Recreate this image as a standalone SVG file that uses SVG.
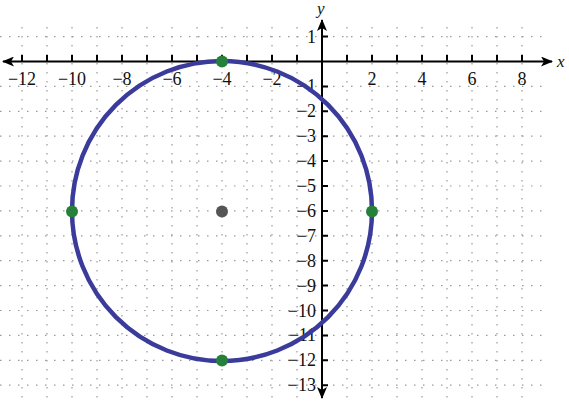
<svg xmlns="http://www.w3.org/2000/svg" width="569" height="401" viewBox="0 0 569 401">
<style>
.grid line{stroke:#9a9a9a;stroke-width:1.2;stroke-dasharray:1.5 7.5}
.axis{stroke:#000;stroke-width:2;fill:none}
.tick{stroke:#000;stroke-width:2}
.lbl{font-family:"Liberation Serif","Times New Roman",serif;font-size:18px;fill:#111}
.xl{text-anchor:middle}
.yl{text-anchor:end}
.var{font-family:"Liberation Serif","Times New Roman",serif;font-size:17px;font-style:italic;fill:#111}
.pt{fill:#25803a}
</style>
<defs>
<marker id="arr" viewBox="0 0 12 10" refX="11" refY="5" markerWidth="12" markerHeight="10" markerUnits="userSpaceOnUse" orient="auto-start-reverse">
<path d="M0,0 L12,5 L0,10 L3,5 Z" fill="#000"/>
</marker>
</defs>
<g id="grid" class="grid">
<line x1="0" y1="36.6" x2="545" y2="36.6"/>
<line x1="0" y1="86.4" x2="545" y2="86.4"/>
<line x1="0" y1="111.3" x2="545" y2="111.3"/>
<line x1="0" y1="136.2" x2="545" y2="136.2"/>
<line x1="0" y1="161.1" x2="545" y2="161.1"/>
<line x1="0" y1="186" x2="545" y2="186"/>
<line x1="0" y1="210.9" x2="545" y2="210.9"/>
<line x1="0" y1="235.8" x2="545" y2="235.8"/>
<line x1="0" y1="260.7" x2="545" y2="260.7"/>
<line x1="0" y1="285.6" x2="545" y2="285.6"/>
<line x1="0" y1="310.5" x2="545" y2="310.5"/>
<line x1="0" y1="335.4" x2="545" y2="335.4"/>
<line x1="0" y1="360.3" x2="545" y2="360.3"/>
<line x1="0" y1="385.2" x2="545" y2="385.2"/>
<line x1="22" y1="27" x2="22" y2="401"/>
<line x1="47" y1="27" x2="47" y2="401"/>
<line x1="72" y1="27" x2="72" y2="401"/>
<line x1="97" y1="27" x2="97" y2="401"/>
<line x1="122" y1="27" x2="122" y2="401"/>
<line x1="147" y1="27" x2="147" y2="401"/>
<line x1="172" y1="27" x2="172" y2="401"/>
<line x1="197" y1="27" x2="197" y2="401"/>
<line x1="222" y1="27" x2="222" y2="401"/>
<line x1="247" y1="27" x2="247" y2="401"/>
<line x1="272" y1="27" x2="272" y2="401"/>
<line x1="297" y1="27" x2="297" y2="401"/>
<line x1="347" y1="27" x2="347" y2="401"/>
<line x1="372" y1="27" x2="372" y2="401"/>
<line x1="397" y1="27" x2="397" y2="401"/>
<line x1="422" y1="27" x2="422" y2="401"/>
<line x1="447" y1="27" x2="447" y2="401"/>
<line x1="472" y1="27" x2="472" y2="401"/>
<line x1="497" y1="27" x2="497" y2="401"/>
<line x1="522" y1="27" x2="522" y2="401"/>
</g>
<g id="axes">
<line class="axis" x1="3" y1="61.5" x2="552" y2="61.5" marker-start="url(#arr)" marker-end="url(#arr)"/>
<line class="axis" x1="322" y1="20" x2="322" y2="398" marker-start="url(#arr)" marker-end="url(#arr)"/>
<path class="tick" d="M22,55V61.5M47,55V61.5M72,55V61.5M97,55V61.5M122,55V61.5M147,55V61.5M172,55V61.5M197,55V61.5M222,55V61.5M247,55V61.5M272,55V61.5M297,55V61.5M347,55V61.5M372,55V61.5M397,55V61.5M422,55V61.5M447,55V61.5M472,55V61.5M497,55V61.5M522,55V61.5"/>
<path class="tick" d="M322,36.6H328M322,86.4H328M322,111.3H328M322,136.2H328M322,161.1H328M322,186H328M322,210.9H328M322,235.8H328M322,260.7H328M322,285.6H328M322,310.5H328M322,335.4H328M322,360.3H328M322,385.2H328"/>
<text class="var" x="557" y="67">x</text>
<text class="var" x="317" y="14">y</text>
</g>
<g id="xlabels" class="lbl xl">
<text x="22" y="85">−12</text>
<text x="72" y="85">−10</text>
<text x="122" y="85">−8</text>
<text x="172" y="85">−6</text>
<text x="222" y="85">−4</text>
<text x="272" y="85">−2</text>
<text x="372" y="85">2</text>
<text x="422" y="85">4</text>
<text x="472" y="85">6</text>
<text x="522" y="85">8</text>
</g>
<g id="ylabels" class="lbl yl">
<text x="316" y="42.6">1</text>
<text x="316" y="92.4">−1</text>
<text x="316" y="117.3">−2</text>
<text x="316" y="142.2">−3</text>
<text x="316" y="167.1">−4</text>
<text x="316" y="192">−5</text>
<text x="316" y="216.9">−6</text>
<text x="316" y="241.8">−7</text>
<text x="316" y="266.7">−8</text>
<text x="316" y="291.6">−9</text>
<text x="316" y="316.5">−10</text>
<text x="316" y="341.4">−11</text>
<text x="316" y="366.3">−12</text>
<text x="316" y="391.2">−13</text>
</g>
<g id="circle">
<circle cx="222" cy="211" r="150" fill="none" stroke="#3b3b9b" stroke-width="4.5"/>
</g>
<g id="center">
<circle cx="222" cy="211.5" r="6" fill="#555"/>
</g>
<g id="points">
<circle class="pt" cx="222" cy="61.5" r="6"/>
<circle class="pt" cx="72" cy="211.5" r="6"/>
<circle class="pt" cx="372" cy="211.5" r="6"/>
<circle class="pt" cx="222" cy="360.5" r="6"/>
</g>
</svg>
